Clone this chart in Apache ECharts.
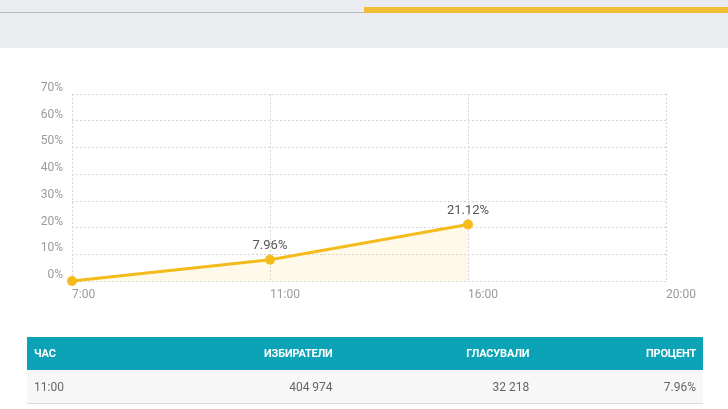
<!DOCTYPE html>
<html>
<head>
<meta charset="utf-8">
<script src="https://cdn.jsdelivr.net/npm/echarts@6/dist/echarts.min.js"></script>
<style>
  html, body { margin: 0; padding: 0; width: 728px; height: 409px; overflow: hidden; background: #fff; font-family: Roboto, "Noto Sans", sans-serif; }
  #band { position: absolute; left: 0; top: 0; width: 728px; height: 48px; background: #eaecef; }
  #grayline { position: absolute; left: 0; top: 12px; width: 364px; height: 1px; background: #b9bec3; }
  #yellowbar { position: absolute; left: 364px; top: 7px; width: 364px; height: 6px; background: #f2bd35; }
  #chart { position: absolute; left: 0; top: 0; width: 728px; height: 409px; }
  #tbl { position: absolute; left: 27px; top: 337px; width: 676px; border-collapse: collapse; font-size: 11px; }
  #tbl th { background: #0da3b6; color: #fff; font-weight: 700; height: 33px; padding: 0 7px; text-align: right; letter-spacing: -0.2px; }
  #tbl td { background: #f7f7f7; color: #666; height: 33px; padding: 0 7px; text-align: right; font-size: 12px; border-bottom: 1px solid #dcdcdc; }
  #tbl th:first-child, #tbl td:first-child { text-align: left; }
</style>
</head>
<body>
<div id="band"></div>
<div id="grayline"></div>
<div id="yellowbar"></div>
<div id="chart"></div>
<table id="tbl"><thead><tr id="hdr"></tr></thead><tbody><tr id="row"></tr></tbody></table>
<script>
var hours = ['7:00', '11:00', '16:00', '20:00'];
var turnout = [0, 7.96, 21.12, null];
var yTicks = { min: 0, max: 70, interval: 10 };
var tableHeaders = ['ЧАС', 'ИЗБИРАТЕЛИ', 'ГЛАСУВАЛИ', 'ПРОЦЕНТ'];
var tableRow = ['11:00', '404 974', '32 218', '7.96%'];
var colWidths = [null, 277, 197, 165];

var hdr = document.getElementById('hdr');
tableHeaders.forEach(function (h, i) {
  var th = document.createElement('th');
  th.textContent = h;
  if (colWidths[i]) th.style.width = colWidths[i] + 'px';
  hdr.appendChild(th);
});
var row = document.getElementById('row');
tableRow.forEach(function (v) {
  var td = document.createElement('td');
  td.textContent = v;
  row.appendChild(td);
});

var chart = echarts.init(document.getElementById('chart'), null, { renderer: 'canvas' });
chart.setOption({
  backgroundColor: 'transparent',
  animation: false,
  grid: { left: 72, right: 62, top: 94, bottom: 128 },
  xAxis: {
    type: 'category',
    data: hours,
    boundaryGap: false,
    axisLine: { show: false },
    axisTick: { show: false },
    axisLabel: { align: 'left', margin: 8, color: '#9a9a9a', fontSize: 12, fontFamily: 'Roboto' },
    splitLine: { show: true, lineStyle: { type: [2, 2], color: '#d6d6d6', width: 1 } }
  },
  yAxis: {
    type: 'value',
    min: yTicks.min, max: yTicks.max, interval: yTicks.interval,
    axisLine: { show: false },
    axisTick: { show: false },
    axisLabel: { formatter: '{value}%', verticalAlign: 'bottom', margin: 9, color: '#9a9a9a', fontSize: 12, fontFamily: 'Roboto' },
    splitLine: { show: true, lineStyle: { type: [2, 2], color: '#d6d6d6', width: 1 } }
  },
  series: [{
    type: 'line',
    data: turnout,
    symbol: 'circle',
    symbolSize: 10,
    lineStyle: { color: '#f4bb1c', width: 3 },
    itemStyle: { color: '#f4bb1c' },
    areaStyle: { color: 'rgba(250,215,110,0.22)' },
    label: {
      show: true, position: 'top', distance: 2,
      color: '#555', fontSize: 13, fontFamily: 'Roboto',
      formatter: function (p) { return p.value > 0 ? p.value.toFixed(2) + '%' : ''; }
    }
  }]
});
</script>
</body>
</html>
